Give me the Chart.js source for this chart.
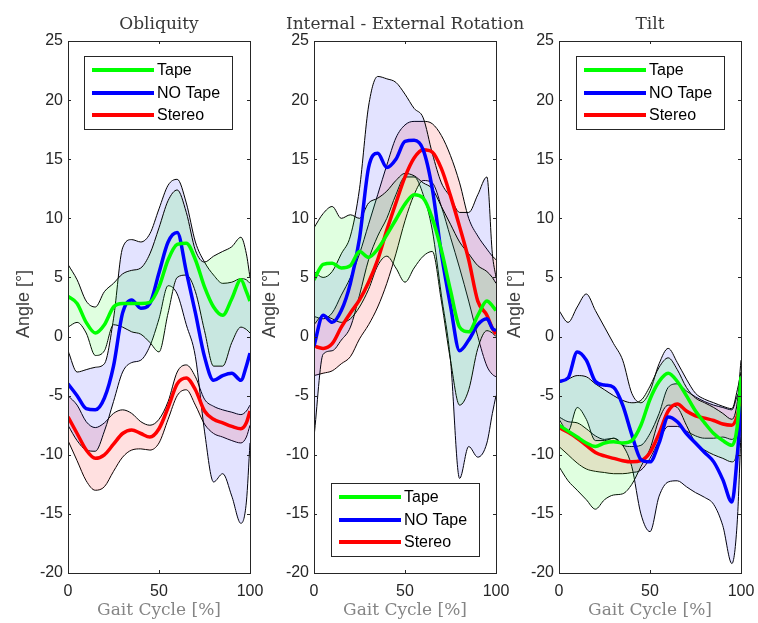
<!DOCTYPE html>
<html>
<head>
<meta charset="utf-8">
<title>Pelvis kinematics</title>
<script src="https://cdn.jsdelivr.net/npm/chart.js@4.4.1/dist/chart.umd.min.js"></script>
<style>
  html, body { margin: 0; padding: 0; background: #fff; overflow: hidden; }
  #wrap { position: relative; width: 758px; height: 623px; overflow: hidden; }
  #wrap canvas { position: absolute; top: 0; }
</style>
</head>
<body>
<div id="wrap">
  <canvas id="obliquityChart" width="290" height="623" style="left:0px"></canvas>
  <canvas id="rotationChart" width="290" height="623" style="left:246px"></canvas>
  <canvas id="tiltChart" width="290" height="623" style="left:491px"></canvas>
</div>
<script>
// Gait cycle samples (% of stride)
const cycle = [0, 5, 10, 15, 20, 25, 30, 35, 40, 45, 50, 55, 60, 65, 70, 75, 80, 85, 90, 95, 98, 100];
const yTicks = [-20, -15, -10, -5, 0, 5, 10, 15, 20, 25];
const xTicks = [0, 50, 100];
const seriesNames = ['Tape', 'NO Tape', 'Stereo'];
const seriesColors = ['#00ff00', '#0000ff', '#ff0000'];
const bandColors = ['rgba(0,255,0,0.12)', 'rgba(0,0,255,0.11)', 'rgba(255,0,0,0.12)'];

// Obliquity (deg): mean and band edges
const obliqTapeMean    = [3.4, 2.8, 1.2, 0.3, 1.0, 2.5, 2.8, 2.8, 2.8, 2.9, 4.2, 6.5, 7.8, 7.9, 6.5, 4.2, 2.5, 1.8, 3.2, 4.8, 3.8, 3.0];
const obliqTapeUpper   = [6.1, 4.8, 3.0, 2.5, 3.8, 4.5, 5.3, 5.6, 5.8, 7.0, 9.2, 11.5, 12.4, 10.5, 7.3, 6.3, 6.8, 7.2, 7.6, 8.4, 7.0, 5.0];
const obliqTapeLower   = [0.8, 1.2, 0.3, -1.6, -1.2, 1.0, 0.8, 0.4, 0.2, -0.5, -1.3, 2.0, 5.0, 5.2, 3.8, 0.5, -2.5, -2.5, -0.5, 0.8, 0.6, 0.3];
const obliqNoTapeMean  = [-4.0, -5.0, -6.1, -6.2, -5.2, -2.5, 2.0, 3.1, 2.4, 2.8, 5.4, 8.0, 8.8, 5.5, 2.0, -1.7, -3.7, -3.3, -3.1, -3.7, -2.5, -1.4];
const obliqNoTapeUpper = [-1.2, -3.0, -2.8, -2.6, -2.3, 1.5, 7.5, 8.2, 8.0, 8.7, 10.8, 12.8, 13.3, 11.3, 8.0, 6.3, 5.2, 4.5, 4.6, 4.9, 4.8, 4.5];
const obliqNoTapeLower = [-7.5, -8.8, -9.6, -9.7, -8.0, -5.5, -3.0, -2.2, -2.0, -0.8, 1.5, 4.3, 3.6, 1.0, -1.7, -8.0, -12.3, -11.6, -13.5, -15.8, -14.0, -9.0];
const obliqStereoMean  = [-6.8, -8.2, -9.6, -10.3, -10.0, -9.1, -8.2, -7.9, -8.2, -8.5, -7.8, -6.0, -4.0, -3.5, -4.5, -6.3, -7.0, -7.3, -7.6, -7.8, -7.3, -6.3];
const obliqStereoUpper = [-5.0, -5.8, -7.2, -7.7, -7.3, -6.5, -6.2, -6.5, -7.2, -7.5, -7.0, -5.5, -3.0, -2.4, -3.4, -5.3, -5.9, -6.2, -6.4, -6.6, -6.3, -5.8];
const obliqStereoLower = [-8.8, -10.5, -12.2, -13.0, -12.7, -11.4, -10.2, -9.6, -9.5, -9.6, -9.0, -7.0, -5.0, -4.5, -5.8, -7.4, -8.2, -8.5, -8.8, -9.0, -8.5, -7.5];

// Internal - external rotation (deg)
const rotTapeMean    = [4.8, 6.1, 6.2, 5.8, 6.0, 7.2, 6.7, 7.4, 8.6, 9.9, 11.2, 12.0, 11.7, 10.0, 7.3, 3.9, 0.8, 0.4, 1.8, 3.0, 2.6, 2.2];
const rotTapeUpper   = [9.2, 10.4, 11.0, 10.0, 10.3, 10.0, 11.3, 11.7, 12.3, 13.2, 13.8, 13.6, 13.0, 12.5, 11.0, 9.5, 8.0, 7.0, 6.0, 5.5, 5.0, 4.5];
const rotTapeLower   = [1.0, 1.8, 1.5, 1.2, 1.5, 2.5, 4.0, 6.0, 6.8, 5.8, 4.6, 5.8, 6.8, 7.2, 3.0, -2.0, -5.8, -4.5, -1.0, 0.5, 0.3, 0.0];
const rotNoTapeMean  = [-0.8, 1.8, 1.2, 2.2, 4.5, 8.3, 14.3, 15.5, 14.3, 15.0, 16.5, 16.6, 15.8, 12.5, 7.0, 2.6, -1.2, -0.3, 1.0, 1.5, 0.7, 0.5];
const rotNoTapeUpper = [5.5, 5.0, 5.5, 7.0, 8.5, 12.5, 19.5, 22.0, 21.8, 21.5, 20.5, 19.3, 18.5, 15.5, 13.0, 11.8, 10.5, 10.5, 12.0, 13.5, 7.0, 5.0];
const rotNoTapeLower = [-8.5, -1.5, -1.2, -0.3, 0.8, 3.5, 6.5, 8.5, 10.0, 12.0, 13.5, 13.5, 12.0, 9.0, 3.5, -2.0, -12.0, -9.3, -10.2, -9.0, -6.5, -5.0];
const rotStereoMean  = [-0.8, -1.0, -0.6, 0.8, 2.0, 3.1, 4.6, 6.5, 9.0, 11.3, 13.5, 15.1, 15.8, 15.6, 14.2, 11.9, 9.3, 6.5, 3.0, 1.8, 0.7, 0.2];
const rotStereoUpper = [1.7, 1.5, 2.0, 3.5, 5.0, 7.0, 9.5, 12.0, 14.5, 16.8, 17.9, 18.2, 18.2, 18.0, 17.0, 15.3, 13.0, 10.0, 8.5, 7.4, 6.8, 6.5];
const rotStereoLower = [-3.3, -3.1, -2.9, -2.3, -1.7, -0.2, 1.0, 2.5, 4.5, 7.0, 9.8, 12.0, 13.2, 13.0, 11.0, 8.4, 5.8, 3.0, 0.0, -2.5, -3.2, -3.4];

// Tilt (deg)
const tiltTapeMean    = [-7.5, -8.0, -8.5, -9.0, -9.3, -9.0, -8.9, -9.0, -8.8, -7.5, -5.3, -3.8, -3.1, -3.8, -5.0, -6.3, -7.3, -8.2, -8.8, -9.2, -7.5, -3.4];
const tiltTapeUpper   = [-3.9, -3.6, -3.3, -3.4, -4.0, -4.5, -5.0, -5.4, -5.6, -5.4, -4.2, -2.6, -1.8, -2.8, -4.3, -5.2, -5.6, -6.0, -6.5, -7.0, -5.5, -2.0];
const tiltTapeLower   = [-11.0, -12.2, -13.0, -13.8, -14.6, -13.8, -13.4, -13.3, -12.5, -11.0, -9.5, -7.0, -5.8, -6.0, -7.5, -9.0, -9.6, -10.0, -10.3, -10.6, -9.5, -4.5];
const tiltNoTapeMean  = [-3.8, -3.5, -1.3, -2.0, -3.8, -4.1, -4.3, -5.8, -8.3, -10.4, -10.6, -9.0, -6.8, -7.2, -8.2, -9.0, -9.8, -10.6, -12.1, -14.0, -10.0, -5.9];
const tiltNoTapeUpper = [2.2, 1.2, 2.5, 3.6, 2.2, 0.8, -0.6, -2.0, -4.8, -5.6, -4.6, -2.3, -1.0, -2.2, -3.6, -4.8, -5.3, -5.6, -5.9, -6.1, -4.5, -3.0];
const tiltNoTapeLower = [-7.0, -8.0, -6.0, -7.0, -8.8, -8.8, -8.6, -9.2, -11.0, -15.0, -16.5, -13.5, -12.3, -12.2, -12.7, -13.2, -13.6, -14.2, -16.0, -19.2, -15.5, -8.0];
const tiltStereoMean  = [-7.7, -8.1, -8.6, -9.2, -9.8, -10.1, -10.3, -10.5, -10.6, -10.5, -9.8, -8.2, -6.3, -5.7, -6.3, -6.7, -6.9, -7.1, -7.4, -7.5, -6.7, -5.3];
const tiltStereoUpper = [-6.8, -7.2, -7.3, -7.8, -8.4, -8.7, -8.6, -9.2, -9.3, -9.2, -8.2, -6.5, -4.3, -4.0, -4.6, -5.1, -5.5, -5.8, -6.0, -6.2, -5.0, -4.5];
const tiltStereoLower = [-9.3, -10.0, -10.7, -11.2, -11.4, -11.5, -11.6, -11.6, -11.5, -11.3, -10.3, -8.8, -7.6, -7.6, -8.0, -8.4, -8.6, -8.6, -8.5, -8.7, -8.0, -6.5];

const tickFont = { family: '"Liberation Sans", Arial, sans-serif', size: 16 };

function pts(values) {
    return cycle.map((x, i) => ({ x: x, y: values[i] }));
}

// shaded bands first (upper fills down to its lower edge), then the mean lines
function buildDatasets(groups) {
    const ds = [];
    groups.forEach((g, k) => {
        ds.push({ data: pts(g.upper), borderColor: '#000', borderWidth: 1, backgroundColor: bandColors[k], fill: '+1', order: 2 });
        ds.push({ data: pts(g.lower), borderColor: '#000', borderWidth: 1, fill: false, order: 2 });
    });
    groups.forEach((g, k) => {
        ds.push({ label: seriesNames[k], data: pts(g.mean), borderColor: seriesColors[k], borderWidth: 3.5, fill: false, order: 1 });
    });
    return ds;
}

// box, inward ticks, titles and legend drawn MATLAB-style
const frame = {
    id: 'frame',
    afterDatasetsDraw(chart) {
        const { ctx, chartArea: a, scales } = chart;
        ctx.save();
        ctx.strokeStyle = '#262626';
        ctx.lineWidth = 1;
        ctx.beginPath();
        yTicks.forEach(v => {
            const py = Math.round(scales.y.getPixelForValue(v)) + 0.5;
            ctx.moveTo(a.left, py); ctx.lineTo(a.left + 3, py);
            ctx.moveTo(a.right, py); ctx.lineTo(a.right - 3, py);
        });
        xTicks.forEach(v => {
            const px = Math.round(scales.x.getPixelForValue(v)) + 0.5;
            ctx.moveTo(px, a.top); ctx.lineTo(px, a.top + 3);
            ctx.moveTo(px, a.bottom); ctx.lineTo(px, a.bottom - 3);
        });
        ctx.stroke();
        ctx.strokeRect(Math.round(a.left) + 0.5, Math.round(a.top) + 0.5, Math.round(a.right - a.left), Math.round(a.bottom - a.top));
        ctx.restore();
    },
    afterDraw(chart, args, opts) {
        const { ctx, chartArea: a } = chart;
        const cx = (a.left + a.right) / 2;
        ctx.save();
        ctx.textAlign = 'center';
        ctx.textBaseline = 'middle';
        ctx.font = '17px "DejaVu Serif", serif';
        ctx.fillStyle = '#383838';
        ctx.fillText(opts.title, cx, 25);
        ctx.fillStyle = '#858585';
        ctx.fillText('Gait Cycle [%]', cx, 611);

        ctx.save();
        ctx.translate(24, (a.top + a.bottom) / 2 - 3);
        ctx.rotate(-Math.PI / 2);
        ctx.font = '18px "Liberation Sans", Arial, sans-serif';
        ctx.fillStyle = '#404040';
        ctx.fillText('Angle [°]', 0, 0);
        ctx.restore();

        // legend
        const L = opts.legend;
        ctx.fillStyle = '#fff';
        ctx.fillRect(L.x, L.y, 148, 73);
        ctx.strokeStyle = '#262626';
        ctx.lineWidth = 1;
        ctx.strokeRect(L.x + 0.5, L.y + 0.5, 148, 73);
        ctx.textAlign = 'left';
        ctx.font = '16px "Liberation Sans", Arial, sans-serif';
        [14, 37, 59].forEach((dy, k) => {
            ctx.strokeStyle = seriesColors[k];
            ctx.lineWidth = 4;
            ctx.beginPath();
            ctx.moveTo(L.x + 8, L.y + dy);
            ctx.lineTo(L.x + 70, L.y + dy);
            ctx.stroke();
            ctx.fillStyle = '#000';
            ctx.fillText(seriesNames[k], L.x + 73, L.y + dy + 1);
        });
        ctx.restore();
    }
};

function makeChart(id, title, legendPos, groups) {
    const ctx = document.getElementById(id).getContext('2d');
    return new Chart(ctx, {
        type: 'line',
        data: { datasets: buildDatasets(groups) },
        options: {
            responsive: false,
            animation: false,
            devicePixelRatio: 1,
            layout: { padding: { left: 0, right: 40, top: 41, bottom: 0 } },
            elements: {
                point: { radius: 0 },
                line: { cubicInterpolationMode: 'monotone' }
            },
            plugins: {
                legend: { display: false },
                tooltip: { enabled: false },
                frame: { title: title, legend: legendPos }
            },
            scales: {
                x: {
                    type: 'linear',
                    min: 0,
                    max: 100,
                    afterFit: s => { s.height = 50; },
                    afterBuildTicks: s => { s.ticks = xTicks.map(v => ({ value: v })); },
                    ticks: { autoSkip: false, maxRotation: 0, padding: 9, color: '#262626', font: tickFont },
                    grid: { display: false, drawTicks: false },
                    border: { display: false }
                },
                y: {
                    min: -20,
                    max: 25,
                    afterFit: s => { s.width = 68; },
                    afterBuildTicks: s => { s.ticks = yTicks.map(v => ({ value: v })); },
                    ticks: { padding: 5, color: '#262626', font: tickFont },
                    grid: { display: false, drawTicks: false },
                    border: { display: false }
                }
            }
        },
        plugins: [frame]
    });
}

document.addEventListener('DOMContentLoaded', function () {
    makeChart('obliquityChart', 'Obliquity', { x: 84, y: 56 }, [
        { mean: obliqTapeMean, upper: obliqTapeUpper, lower: obliqTapeLower },
        { mean: obliqNoTapeMean, upper: obliqNoTapeUpper, lower: obliqNoTapeLower },
        { mean: obliqStereoMean, upper: obliqStereoUpper, lower: obliqStereoLower }
    ]);
    makeChart('rotationChart', 'Internal - External Rotation', { x: 85, y: 483 }, [
        { mean: rotTapeMean, upper: rotTapeUpper, lower: rotTapeLower },
        { mean: rotNoTapeMean, upper: rotNoTapeUpper, lower: rotNoTapeLower },
        { mean: rotStereoMean, upper: rotStereoUpper, lower: rotStereoLower }
    ]);
    makeChart('tiltChart', 'Tilt', { x: 85, y: 56 }, [
        { mean: tiltTapeMean, upper: tiltTapeUpper, lower: tiltTapeLower },
        { mean: tiltNoTapeMean, upper: tiltNoTapeUpper, lower: tiltNoTapeLower },
        { mean: tiltStereoMean, upper: tiltStereoUpper, lower: tiltStereoLower }
    ]);
});
</script>
</body>
</html>
